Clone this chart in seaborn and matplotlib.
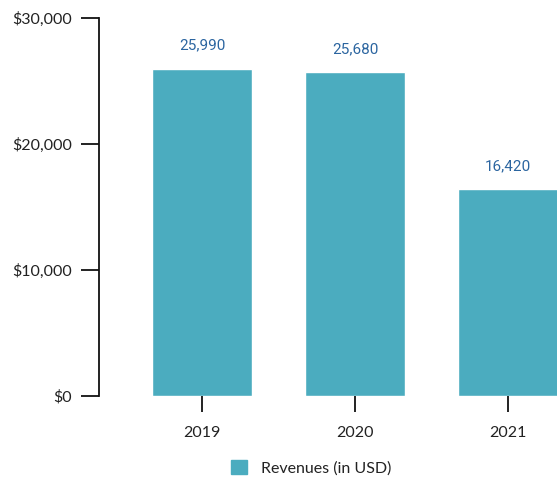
import matplotlib
matplotlib.use("Agg")
import matplotlib.pyplot as plt
import matplotlib.patches as mpatches
import seaborn as sns
import pandas as pd

years = ["2019", "2020", "2021"]
revenues = [25990, 25680, 16420]
yticks = [0, 10000, 20000, 30000]
ytick_labels = ["$0", "$10,000", "$20,000", "$30,000"]
series_name = "Revenues (in USD)"

bar_color = "#4BACBF"
label_color = "#2B65A0"
text_color = "#222222"

sns.set_theme(style="white")
plt.rcParams["font.family"] = ["Lato", "DejaVu Sans"]

df = pd.DataFrame({"year": years, "revenue": revenues})

fig = plt.figure(figsize=(5.57, 4.78), dpi=100)
ax = fig.add_axes([99 / 557, 1 - 396 / 478, 1 - 99 / 557, (396 - 18) / 478])

sns.barplot(data=df, x="year", y="revenue", color=bar_color, width=0.655,
            saturation=1, ax=ax)

ax.set_ylim(0, 30000)
ax.set_xlim(-0.673, 2.32)
ax.set_yticks(yticks)
ax.set_yticklabels(ytick_labels)
ax.set_xlabel("")
ax.set_ylabel("")

for s in ["top", "right", "bottom"]:
    ax.spines[s].set_visible(False)
ax.spines["left"].set_color("#111111")
ax.spines["left"].set_linewidth(1.3)

ax.tick_params(axis="y", length=13, width=1.3, color="#111111", pad=6.5,
               labelsize=11.5, labelcolor=text_color, left=True)
ax.tick_params(axis="x", length=11.5, width=1.3, color="#111111", pad=10,
               labelsize=11.5, labelcolor=text_color, bottom=True, direction="out")

for i, v in enumerate(revenues):
    ax.annotate(f"{v:,}", xy=(i, v), xytext=(0, 16.5), textcoords="offset points",
                ha="center", va="center", color=label_color, fontsize=11,
                family=["Roboto", "DejaVu Sans"])

handle = mpatches.Patch(color=bar_color, label=series_name)
fig.legend(handles=[handle], loc="center", bbox_to_anchor=(311 / 557, 1 - 468 / 478),
           frameon=False, fontsize=11.5, handlelength=1.0, handleheight=1.0,
           handletextpad=0.9, labelcolor=text_color)

fig.savefig("out.png", dpi=100)
